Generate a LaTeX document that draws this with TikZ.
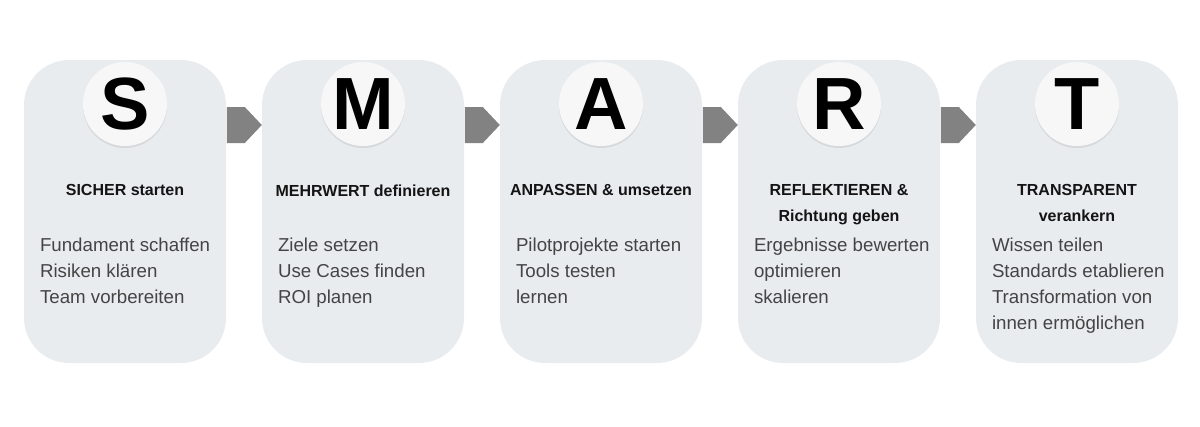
\documentclass[tikz,border=0pt]{standalone}
\usepackage{fontspec}
\setmainfont{Liberation Sans}
\usetikzlibrary{shadows}

\definecolor{cardgray}{HTML}{E9ECEF}
\definecolor{badgewhite}{HTML}{F7F7F7}
\definecolor{arrowgray}{HTML}{828282}
\definecolor{bodygray}{HTML}{444444}

\tikzset{
  card/.style={rectangle, rounded corners=45pt, fill=cardgray,
    minimum width=202pt, minimum height=303pt, inner sep=0pt},
  badge/.style={circle, fill=badgewhite, minimum size=84pt, inner sep=0pt,
    drop shadow={fill=black, opacity=.08, shadow xshift=0pt, shadow yshift=-2pt},
    font=\fontsize{74}{74}\selectfont\bfseries},
  steptitle/.style={anchor=north, align=center, inner sep=0pt, text=black!92,
    font=\fontsize{16}{26}\selectfont\bfseries},
  stepbody/.style={anchor=north west, align=left, inner sep=0pt, text=bodygray,
    font=\fontsize{18.7}{26}\selectfont},
}

\begin{document}
\begin{tikzpicture}[x=1pt,y=-1pt]
\useasboundingbox (0,0) rectangle (1200,426);

% the five steps
\foreach \i/\ch/\head/\lines in {
  1/S/{SICHER starten}/{Fundament schaffen\\Risiken klären\\Team vorbereiten},
  2/M/{MEHRWERT definieren}/{Ziele setzen\\Use Cases finden\\ROI planen},
  3/A/{ANPASSEN \& umsetzen}/{Pilotprojekte starten\\Tools testen\\lernen},
  4/R/{REFLEKTIEREN \&\\Richtung geben}/{Ergebnisse bewerten\\optimieren\\skalieren},
  5/T/{TRANSPARENT\\verankern}/{Wissen teilen\\Standards etablieren\\Transformation von\\innen ermöglichen}}
{
  \node[card] (card\i) at ({125+238*(\i-1)},211.5) {};
  \node[badge] (badge\i) at (card\i.center |- 0,104) {\ch};
  \node[steptitle] (head\i) at (card\i.center |- 0,184.5) {\head};
  \node[stepbody, xshift=16pt] (list\i) at (card\i.west |- 0,238) {\lines};
}

% arrows between the steps
\foreach \i [evaluate=\i as \j using int(\i+1)] in {1,...,4}
  \fill[arrowgray] (card\j.west |- 0,125) -- +(-17,18) -- +(-35,18)
    -- +(-35,-18) -- +(-17,-18) -- cycle;

\end{tikzpicture}
\end{document}
